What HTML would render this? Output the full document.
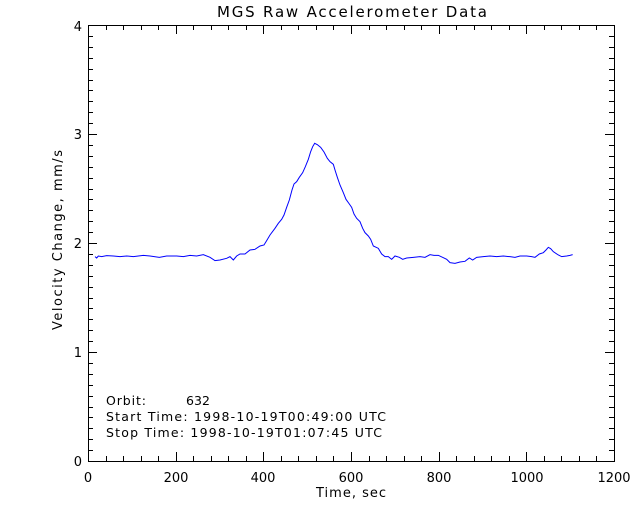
<!DOCTYPE html>
<html><head><meta charset="utf-8"><style>
html,body{margin:0;padding:0;background:#fff;}
svg text{font-family:"DejaVu Sans","Liberation Sans",sans-serif;fill:#000;}
</style></head><body>
<svg id="s" width="640" height="512" xmlns="http://www.w3.org/2000/svg">
<rect x="0" y="0" width="640" height="512" fill="#fff"/>
<rect x="88.5" y="25.5" width="526" height="436" fill="none" stroke="#000" stroke-width="1"/>
<g id="ticks" stroke="#000" stroke-width="1"></g>
<text x="217" y="17" font-size="15" textLength="270" lengthAdjust="spacing">MGS Raw Accelerometer Data</text>
<g font-size="13" text-anchor="middle">
<text x="88" y="482">0</text><text x="176" y="482">200</text><text x="263" y="482">400</text>
<text x="351" y="482">600</text><text x="439" y="482">800</text><text x="527" y="482">1000</text><text x="614" y="482">1200</text>
</g>
<g font-size="13" text-anchor="end">
<text x="82" y="466">0</text><text x="82" y="357">1</text><text x="82" y="248">2</text><text x="82" y="139">3</text><text x="82" y="31">4</text>
</g>
<text x="316" y="497" font-size="13" textLength="70" lengthAdjust="spacing">Time, sec</text>
<text transform="translate(62,330) rotate(-90)" font-size="13" textLength="180" lengthAdjust="spacing">Velocity Change, mm/s</text>
<g font-size="12.5">
<text x="106" y="405" textLength="40" lengthAdjust="spacing">Orbit:</text>
<text x="186" y="405" textLength="24" lengthAdjust="spacing">632</text>
<text x="106" y="421" textLength="280" lengthAdjust="spacing">Start Time: 1998-10-19T00:49:00 UTC</text>
<text x="106" y="437" textLength="276" lengthAdjust="spacing">Stop Time: 1998-10-19T01:07:45 UTC</text>
</g>
<g transform="translate(80,120) scale(0.33333)">
<polyline fill="none" stroke="#0000ff" stroke-width="1" vector-effect="non-scaling-stroke" points="
45,410 50,414 55,408 65,410 80,407 100,408 120,410 140,408 160,410 190,406 210,408 238,412 260,408 290,408 310,410 330,406 350,408 370,404 390,412 405,422 420,420 440,415 450,410 460,420 470,408 480,402 495,402 510,390 525,388 540,378 552,375 560,362 570,345 585,325 595,310 605,298 612,285 620,262 628,240 636,210 642,192 650,185 658,172 668,158 676,140 685,118 692,95 698,80 704,70 712,74 722,82 732,96 742,115 750,125 760,133 765,150 772,172 780,195 790,218 798,238 808,252 815,262 822,282 830,295 840,305 848,325 855,338 865,348 872,358 880,378 895,385 905,402 915,410 925,410 935,418 945,408 958,412 968,418 980,414 1000,412 1020,410 1035,412 1050,404 1062,406 1075,406 1090,413 1100,418 1110,428 1125,430 1140,426 1155,424 1168,414 1178,420 1190,412 1210,410 1230,408 1250,410 1270,408 1290,410 1305,412 1320,408 1340,408 1355,410 1365,412 1378,402 1390,398 1398,390 1405,382 1412,386 1420,395 1435,405 1445,410 1460,408 1470,406 1478,404"/>
</g>
</svg>
<script>
var g=document.getElementById('ticks'),ns='http://www.w3.org/2000/svg';
function L(x1,y1,x2,y2){var l=document.createElementNS(ns,'line');l.setAttribute('x1',x1);l.setAttribute('y1',y1);l.setAttribute('x2',x2);l.setAttribute('y2',y2);g.appendChild(l);}
for(var i=0;i<=30;i++){var x=Math.round(88+i*526/30)+0.5,len=(i%5==0)?9:5;L(x,461,x,461-len);L(x,25,x,25+len);}
for(var j=0;j<=40;j++){var y=Math.round(461-j*436/40)+0.5,len=(j%10==0)?9:5;L(88,y,88+len,y);L(614,y,614-len,y);}
</script>
</body></html>
